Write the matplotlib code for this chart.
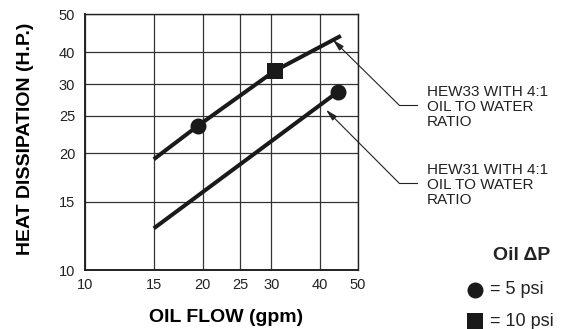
import numpy as np
import matplotlib
matplotlib.use('Agg')
import matplotlib.pyplot as plt
from matplotlib.lines import Line2D

plt.rcParams['font.family'] = ['Liberation Sans', 'DejaVu Sans']

# Axis ticks (both axes go 10..50)
x_ticks = [10, 15, 20, 25, 30, 40, 50]
y_ticks = [10, 15, 20, 25, 30, 40, 50]
# the printed chart does not space the y grid evenly in log,
# so keep where each grid line sits (fraction of axis height)
y_tick_frac = [0.0, 0.267, 0.456, 0.602, 0.726, 0.851, 1.0]

# HEW33 curve (oil flow gpm, heat dissipation hp)
hew33_flow = [15, 19.5, 30.6, 45.2]
hew33_hp = [19.3, 23.6, 33.8, 44.0]

# HEW31 curve
hew31_flow = [15, 44.4]
hew31_hp = [12.8, 28.7]

# marked points: Oil dP = 5 psi (circles) and 10 psi (squares)
psi5_flow = [19.5, 44.4]
psi5_hp = [23.6, 28.7]
psi10_flow = [30.6]
psi10_hp = [33.8]

log_y = np.log10(y_ticks)


def fwd(v):
    v = np.clip(np.asarray(v, dtype=float), 1e-9, None)
    return np.interp(np.log10(v), log_y, y_tick_frac)


def inv(v):
    return 10 ** np.interp(v, y_tick_frac, log_y)


W, H = 573, 329
fig = plt.figure(figsize=(W / 100, H / 100), dpi=100)
ax = fig.add_axes([85 / W, 1 - 270 / H, 273 / W, 256 / H])

ax.set_xscale('log')
ax.set_yscale('function', functions=(fwd, inv))
ax.set_xlim(10, 50)
ax.set_ylim(10, 50)

ax.set_xticks(x_ticks)
ax.set_xticklabels([str(t) for t in x_ticks])
ax.set_yticks(y_ticks)
ax.set_yticklabels([str(t) for t in y_ticks])
ax.xaxis.set_minor_locator(matplotlib.ticker.NullLocator())
ax.yaxis.set_minor_locator(matplotlib.ticker.NullLocator())
ax.tick_params(length=0, labelsize=10.5, colors='#222')
ax.tick_params(axis='x', pad=6)
ax.tick_params(axis='y', pad=7)

ax.grid(True, color='#333', lw=0.9)
for s in ax.spines.values():
    s.set_color('#222')
    s.set_linewidth(1.0)
ax.spines['left'].set_linewidth(1.4)
ax.spines['bottom'].set_linewidth(1.4)

lc = '#1a1a1a'
ax.plot(hew33_flow, hew33_hp, color=lc, lw=2.9, solid_capstyle='butt', zorder=3)
ax.plot(hew31_flow, hew31_hp, color=lc, lw=2.9, solid_capstyle='butt', zorder=3)
ax.plot(psi5_flow, psi5_hp, 'o', color=lc, ms=11.5, mew=0, zorder=4, clip_on=False)
ax.plot(psi10_flow, psi10_hp, 's', color=lc, ms=11.5, mew=0, zorder=4, clip_on=False)

ax.set_xlabel('OIL FLOW (gpm)', fontsize=14, fontweight='bold')
ax.xaxis.set_label_coords((226 - 85) / 273, -(318 - 270) / 256)
ax.xaxis.label.set_verticalalignment('center')
ax.set_ylabel('HEAT DISSIPATION (H.P.)', fontsize=14, fontweight='bold')
ax.yaxis.set_label_coords((26 - 85) / 273, (270 - 139) / 256)
ax.yaxis.label.set_verticalalignment('center')

# callouts
callouts = [
    ('HEW33 WITH 4:1\nOIL TO WATER\nRATIO', (43.1, 43.0), 105, 107),
    ('HEW31 WITH 4:1\nOIL TO WATER\nRATIO', (41.4, 25.9), 183, 185),
]
for txt, tip, ly, ty in callouts:
    ax.annotate('', xy=tip, xycoords='data',
                xytext=(399 / W, 1 - ly / H), textcoords='figure fraction',
                arrowprops=dict(arrowstyle='-|>,head_length=0.7,head_width=0.18',
                                lw=0.8, color='#222', shrinkA=0, shrinkB=0),
                annotation_clip=False)
    fig.add_artist(Line2D([399 / W, 417 / W], [1 - ly / H] * 2, lw=0.8, color='#222'))
    fig.text(427 / W, 1 - ty / H, txt, ha='left', va='center', fontsize=11,
             linespacing=1.1, color='#222')

# legend for the markers
fig.text(522 / W, 1 - 255 / H, 'Oil \u0394P', ha='center', va='center',
         fontsize=14, fontweight='bold', color='#222')
fig.add_artist(Line2D([475 / W], [1 - 290 / H], marker='o', ms=11.5, mew=0,
                      color=lc, ls=''))
fig.add_artist(Line2D([475 / W], [1 - 321 / H], marker='s', ms=11, mew=0,
                      color=lc, ls=''))
fig.text(490 / W, 1 - 290 / H, '= 5 psi', ha='left', va='center', fontsize=13, color='#222')
fig.text(490 / W, 1 - 321 / H, '= 10 psi', ha='left', va='center', fontsize=13, color='#222')

fig.savefig('out.png', dpi=100)
